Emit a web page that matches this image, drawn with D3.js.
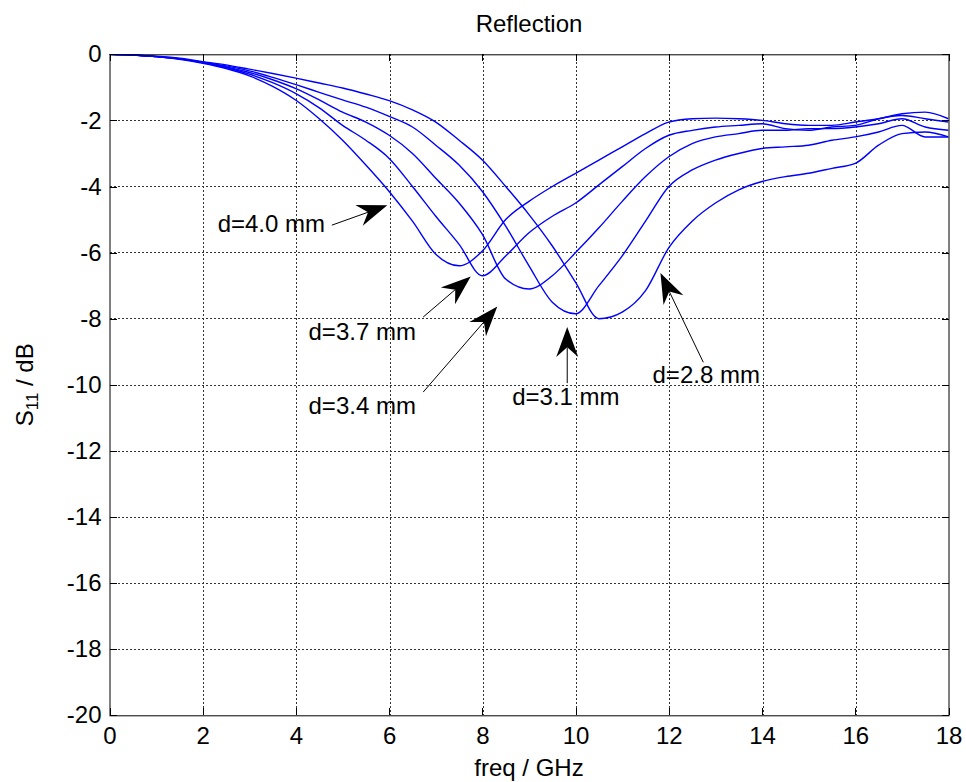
<!DOCTYPE html>
<html lang="en">
<head>
<meta charset="UTF-8"/>
<title>Reflection</title>
<style>
  body { margin: 0; background: #fff; }
  svg text { font-family: "Liberation Sans", Arial, Helvetica, sans-serif; fill: #000; }
  .grid line { stroke: #333; stroke-width: 1; stroke-dasharray: 2,2; shape-rendering: crispEdges; }
  .axis path { display: none; }
  .axis line { stroke: #000; shape-rendering: crispEdges; }
</style>
<script src="https://d3js.org/d3.v7.min.js"></script>
</head>
<body>
<div id="chart"></div>
<script>
// frequency samples (GHz), shared by all curves
var freq = d3.range(0, 18.01, 0.5);

// S11 in dB, one array per thickness
var s11_40 = [0, -0.02, -0.07, -0.15, -0.27, -0.43, -0.65, -0.97, -1.39, -1.95,
              -2.6, -3.35, -4.15, -5.05, -6.05, -6.4, -5.95, -5.0, -4.45, -4.0,
              -3.6, -3.2, -2.8, -2.4, -2.05, -1.95, -1.93, -1.95, -2.0, -2.1,
              -2.15, -2.15, -2.05, -1.95, -1.8, -1.75, -1.95];
var s11_37 = [0, -0.02, -0.07, -0.14, -0.25, -0.4, -0.6, -0.86, -1.19, -1.62,
              -2.15, -2.6, -3.15, -4.0, -4.9, -5.75, -6.7, -6.1, -5.4, -4.9,
              -4.5, -3.95, -3.4, -2.85, -2.45, -2.3, -2.2, -2.15, -2.1, -2.25,
              -2.3, -2.2, -2.15, -1.95, -1.85, -1.95, -2.05];
var s11_34 = [0, -0.02, -0.07, -0.14, -0.25, -0.38, -0.55, -0.77, -1.04, -1.38,
              -1.75, -2.05, -2.45, -3.0, -3.75, -4.5, -5.45, -6.8, -7.1, -6.7,
              -6.0, -5.25, -4.45, -3.7, -3.1, -2.7, -2.5, -2.4, -2.3, -2.3,
              -2.25, -2.25, -2.2, -2.1, -1.95, -2.2, -2.3];
var s11_31 = [0, -0.02, -0.07, -0.13, -0.24, -0.35, -0.5, -0.7, -0.92, -1.15,
              -1.38, -1.6, -1.88, -2.2, -2.75, -3.35, -4.15, -5.2, -6.4, -7.5,
              -7.85, -7.0, -6.1, -5.05, -4.0, -3.5, -3.2, -3.0, -2.85, -2.8,
              -2.75, -2.6, -2.5, -2.35, -2.15, -2.5, -2.5];
var s11_28 = [0, -0.02, -0.06, -0.12, -0.22, -0.32, -0.45, -0.58, -0.72, -0.87,
              -1.02, -1.2, -1.4, -1.68, -2.05, -2.6, -3.2, -4.0, -4.85, -5.8,
              -6.9, -8.0, -7.8, -7.15, -5.85, -5.05, -4.5, -4.1, -3.85, -3.7,
              -3.6, -3.45, -3.3, -2.75, -2.4, -2.35, -2.5];

var curves = [s11_40, s11_37, s11_34, s11_31, s11_28];

var xTicks = d3.range(0, 19, 2);
var yTicks = d3.range(-20, 1, 2);

// annotations: label, text position, line start, arrow tip (in data units)
var labels = ["d=4.0 mm", "d=3.7 mm", "d=3.4 mm", "d=3.1 mm", "d=2.8 mm"];
var labelPos  = [[2.32, -5.38], [4.27, -8.65], [4.27, -10.88], [8.64, -10.62], [11.65, -9.95]];
var lineFrom  = [[4.77, -5.17], [6.73, -7.95], [6.73, -10.22], [9.82, -9.95], [12.74, -9.32]];
var arrowTip  = [[5.96, -4.57], [7.75, -6.72], [8.32, -7.63], [9.82, -8.25], [11.82, -6.62]];

var W = 966, H = 782;
var margin = {left: 109.5, right: 966 - 948.5, top: 54.3, bottom: 782 - 715.3};
var w = W - margin.left - margin.right;
var h = H - margin.top - margin.bottom;

var x = d3.scaleLinear().domain([0, 18]).range([0, w]);
var y = d3.scaleLinear().domain([-20, 0]).range([h, 0]);

var svg = d3.select("#chart").append("svg")
  .attr("width", W)
  .attr("height", H);

var g = svg.append("g")
  .attr("transform", "translate(" + margin.left + "," + margin.top + ")");

// grid
var grid = g.append("g").attr("class", "grid");
grid.selectAll(".gx").data(xTicks.slice(1, -1)).enter().append("line")
  .attr("x1", function(d) { return Math.round(x(d)) + 0.5; })
  .attr("x2", function(d) { return Math.round(x(d)) + 0.5; })
  .attr("y1", 0).attr("y2", h);
grid.selectAll(".gy").data(yTicks.slice(1, -1)).enter().append("line")
  .attr("y1", function(d) { return Math.round(y(d)) + 0.5; })
  .attr("y2", function(d) { return Math.round(y(d)) + 0.5; })
  .attr("x1", 0).attr("x2", w);

// curves
g.append("clipPath").attr("id", "clip")
  .append("rect").attr("width", w).attr("height", h);

var line = d3.line()
  .x(function(d, i) { return x(freq[i]); })
  .y(function(d) { return y(d); })
  .curve(d3.curveMonotoneX);

g.append("g").attr("clip-path", "url(#clip)")
  .selectAll("path").data(curves).enter().append("path")
  .attr("d", line)
  .attr("fill", "none")
  .attr("stroke", "#0000ff")
  .attr("stroke-width", 1.4);

// axes with inward ticks on all four sides, plain hyphen minus signs
var fmt = function(d) { return String(d); };

g.append("g").attr("class", "axis")
  .attr("transform", "translate(0," + h + ")")
  .call(d3.axisBottom(x).tickValues(xTicks).tickFormat(fmt).tickSizeInner(-7).tickSizeOuter(0).tickPadding(12))
  .selectAll("text").style("font-size", "24px");
g.append("g").attr("class", "axis")
  .call(d3.axisTop(x).tickValues(xTicks).tickSizeInner(-7).tickSizeOuter(0).tickFormat(""));
g.append("g").attr("class", "axis")
  .call(d3.axisLeft(y).tickValues(yTicks).tickFormat(fmt).tickSizeInner(-7).tickSizeOuter(0).tickPadding(8))
  .selectAll("text").style("font-size", "24px");
g.append("g").attr("class", "axis")
  .attr("transform", "translate(" + w + ",0)")
  .call(d3.axisRight(y).tickValues(yTicks).tickSizeInner(-7).tickSizeOuter(0).tickFormat(""));

// box
g.append("rect")
  .attr("x", 0.5).attr("y", 0.5)
  .attr("width", w).attr("height", h)
  .attr("fill", "none").attr("stroke", "#000").attr("stroke-width", 1);

// title and axis labels
svg.append("text")
  .attr("x", margin.left + w / 2).attr("y", 32)
  .attr("text-anchor", "middle").style("font-size", "24px")
  .text("Reflection");

svg.append("text")
  .attr("x", margin.left + w / 2).attr("y", 776)
  .attr("text-anchor", "middle").style("font-size", "24px")
  .text("freq / GHz");

var yl = svg.append("text")
  .attr("transform", "translate(33," + (margin.top + h / 2) + ") rotate(-90)")
  .attr("text-anchor", "middle").style("font-size", "24px");
yl.append("tspan").text("S");
yl.append("tspan").attr("dy", 5).style("font-size", "17px").text("11");
yl.append("tspan").attr("dy", -5).text(" / dB");

// annotations
var ann = g.append("g");
labels.forEach(function(lab, i) {
  var p = labelPos[i], a = lineFrom[i], b = arrowTip[i];
  var x1 = x(a[0]), y1 = y(a[1]), x2 = x(b[0]), y2 = y(b[1]);
  var ang = Math.atan2(y2 - y1, x2 - x1);
  var L = 30, Wd = 11, N = 0.68 * L;
  var c = Math.cos(ang), s = Math.sin(ang);
  function pt(u, v) { return [x2 - u * c - v * s, y2 - u * s + v * c]; }
  ann.append("line")
    .attr("x1", x1).attr("y1", y1)
    .attr("x2", pt(N, 0)[0]).attr("y2", pt(N, 0)[1])
    .attr("stroke", "#000").attr("stroke-width", 1);
  ann.append("path")
    .attr("d", "M" + [pt(0, 0), pt(L, Wd), pt(N, 0), pt(L, -Wd)].join("L") + "Z")
    .attr("fill", "#000");
  ann.append("text")
    .attr("x", x(p[0])).attr("y", y(p[1]))
    .style("font-size", "24px")
    .text(lab);
});
</script>
</body>
</html>
